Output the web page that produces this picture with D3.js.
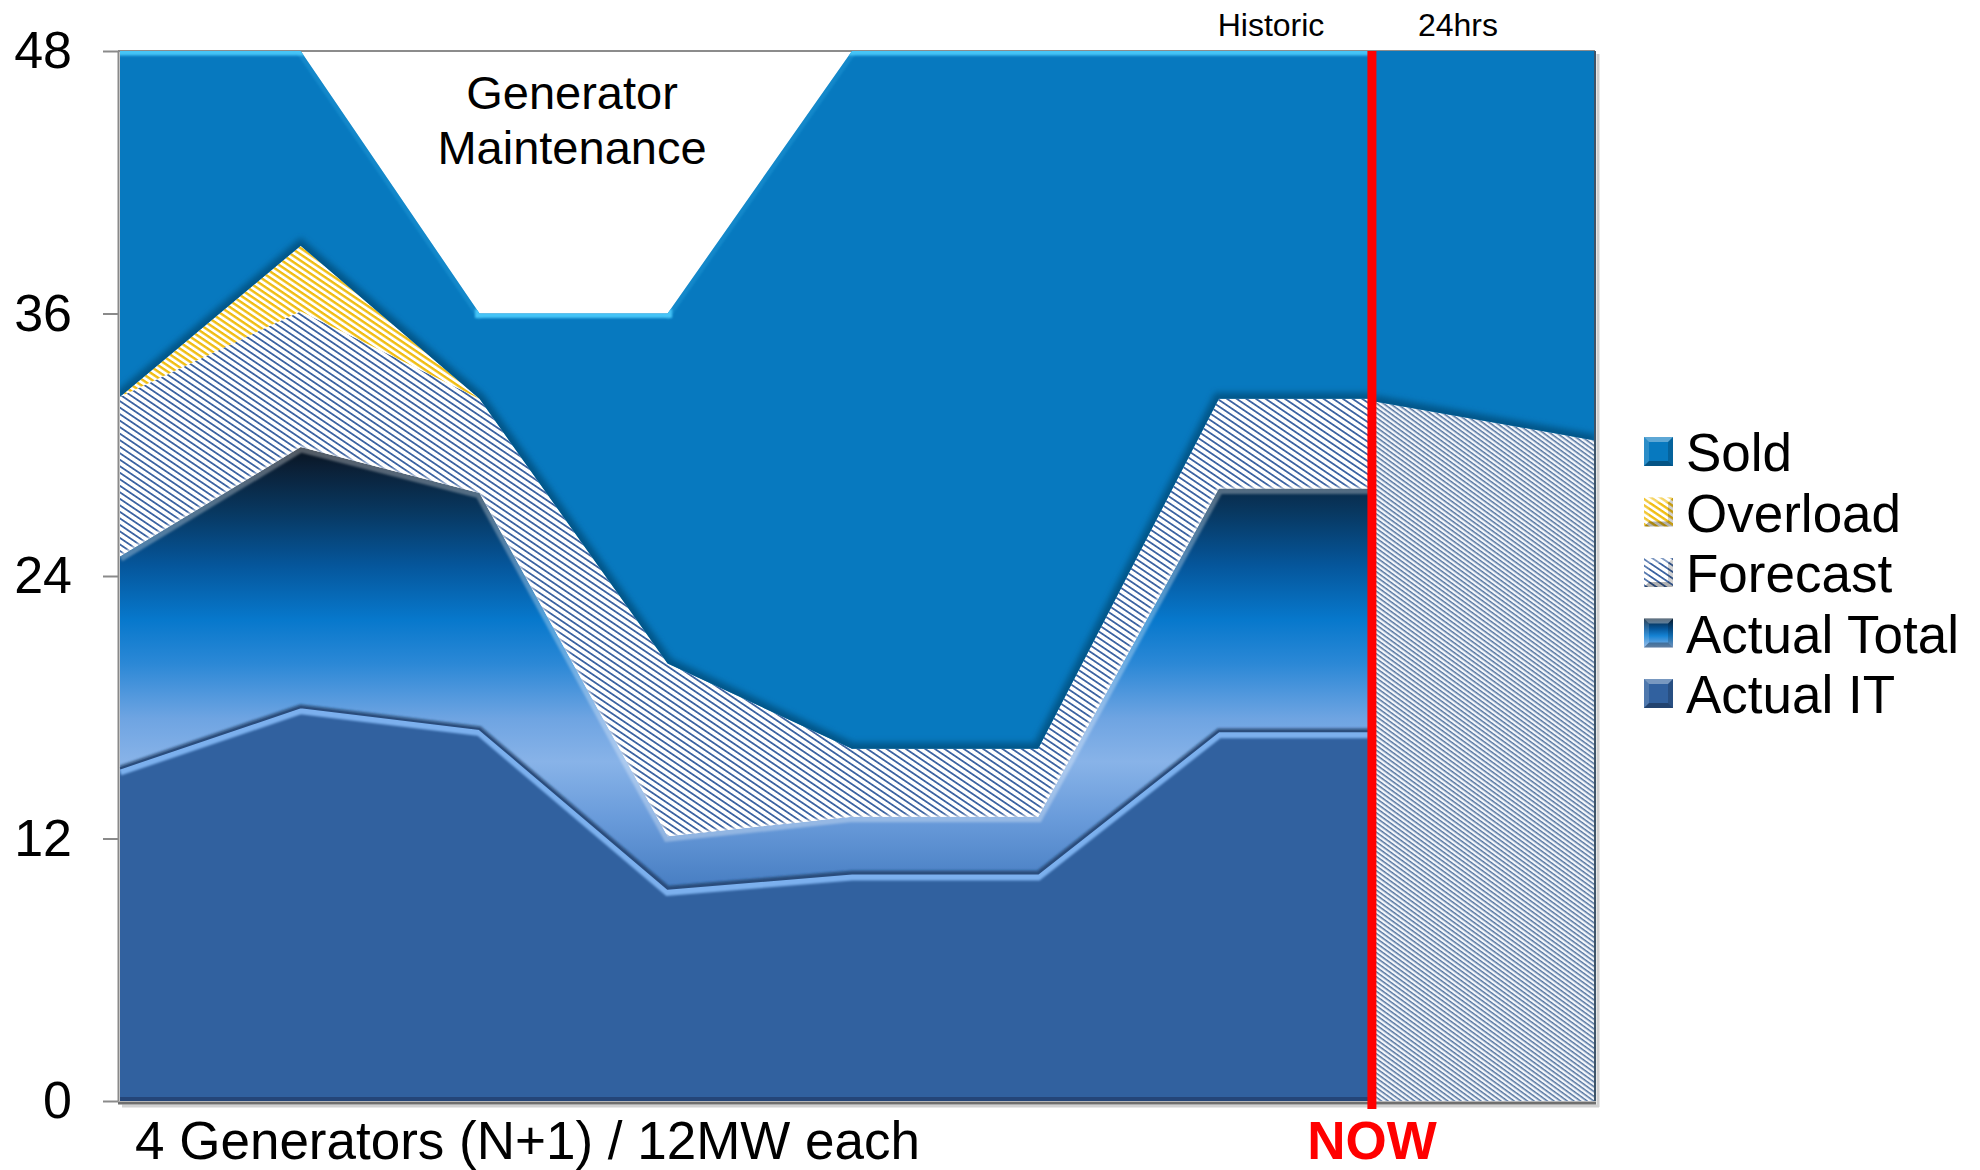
<!DOCTYPE html>
<html>
<head>
<meta charset="utf-8">
<script src="https://cdn.jsdelivr.net/npm/d3@7"></script>
<style>
  html, body { margin: 0; padding: 0; background: #fff; }
  svg { display: block; font-family: "Liberation Sans", Arial, sans-serif; }
</style>
</head>
<body>
<div id="chart"></div>
<script>
// historic points (x in chart units, stacked increments in MW)
const hours       = [0, 0.98, 1.95, 2.97, 3.97, 4.98, 5.96, 6.79];
const actualIT    = [15.2, 18.0, 17.0, 9.7, 10.4, 10.4, 16.9, 16.9];
const actualTotal = [9.7, 11.9, 10.8, 2.4, 2.6, 2.6, 11.1, 11.1];
const forecast    = [7.3, 6.2, 4.3, 7.9, 3.1, 3.1, 4.1, 4.1];
const overload    = [0, 3.0, 0, 0, 0, 0, 0, 0];
const sold        = [15.8, 8.9, 3.9, 16.0, 31.9, 31.9, 15.9, 15.9];

// next 24hrs
const futureHours    = [6.79, 8];
const futureForecast = [32.0, 30.2];
const futureSold     = [16.0, 17.8];

const nowHour = 6.79;
const yTicks = [0, 12, 24, 36, 48];
const keys = ["Actual IT", "Actual Total", "Forecast", "Overload", "Sold"];
const legendLabels = ["Sold", "Overload", "Forecast", "Actual Total", "Actual IT"];

const width = 1980, height = 1170;
const margin = { left: 120, right: 385, top: 51, bottom: 69 };

const svg = d3.select("#chart").append("svg")
    .attr("width", width)
    .attr("height", height);

const x = d3.scaleLinear().domain([0, 8]).range([margin.left, width - margin.right]);
const y = d3.scaleLinear().domain([0, 48]).range([height - margin.bottom, margin.top]);

const defs = svg.append("defs");

// --- patterns / gradients ---
function hatch(id, period, stripe, color, bg, angle) {
    const p = defs.append("pattern")
        .attr("id", id)
        .attr("patternUnits", "userSpaceOnUse")
        .attr("width", 20).attr("height", period)
        .attr("patternTransform", `rotate(${angle})`);
    p.append("rect").attr("width", 20).attr("height", period).attr("fill", bg);
    p.append("rect").attr("width", 20).attr("height", stripe).attr("fill", color);
}
hatch("hatchBlue", 5.4, 1.8, "#3d64a2", "#ffffff", 34);
hatch("hatchFuture", 3.9, 1.5, "#52739f", "#f4f7fb", 36);
hatch("hatchYellow", 5.2, 2.4, "#f0bd12", "#ffffff", 34);

const totalStops = [
    [30, "#08111c"], [29, "#0b1f35"], [27, "#08375f"], [24.5, "#05569b"],
    [22, "#0778cc"], [20, "#2b88d6"], [17.5, "#6ea4e2"], [15.5, "#88b3e8"],
    [13, "#6a9cdb"], [10, "#4a80c4"]
];
const gTotal = defs.append("linearGradient")
    .attr("id", "gradTotal")
    .attr("gradientUnits", "userSpaceOnUse")
    .attr("x1", 0).attr("x2", 0)
    .attr("y1", y(30)).attr("y2", y(10));
gTotal.selectAll("stop").data(totalStops).enter().append("stop")
    .attr("offset", d => (30 - d[0]) / 20)
    .attr("stop-color", d => d[1]);

const gIcon = defs.append("linearGradient")
    .attr("id", "gradTotalIcon")
    .attr("x1", 0).attr("x2", 0).attr("y1", 0).attr("y2", 1);
[[0, "#0a2238"], [0.35, "#06569a"], [0.6, "#1583d4"], [1, "#8ab4e6"]].forEach(s =>
    gIcon.append("stop").attr("offset", s[0]).attr("stop-color", s[1]));

// user-space filter regions so flat lines still render
function blurFilter(id, sd) {
    defs.append("filter").attr("id", id)
        .attr("filterUnits", "userSpaceOnUse")
        .attr("x", 0).attr("y", 0).attr("width", width).attr("height", height)
        .append("feGaussianBlur").attr("stdDeviation", sd);
}
blurFilter("blur1", 1.2);
blurFilter("blur3", 3);

const fills = {
    "Actual IT": "#31619f",
    "Actual Total": "url(#gradTotal)",
    "Forecast": "url(#hatchBlue)",
    "Overload": "url(#hatchYellow)",
    "Sold": "#0779bf"
};

// --- top gridline ---
svg.append("line")
    .attr("x1", margin.left - 2).attr("x2", x(8))
    .attr("y1", y(48)).attr("y2", y(48))
    .attr("stroke", "#8c8c8c").attr("stroke-width", 2);

// --- historic stack ---
const rows = hours.map((h, i) => ({
    h,
    "Actual IT": actualIT[i],
    "Actual Total": actualTotal[i],
    "Forecast": forecast[i],
    "Overload": overload[i],
    "Sold": sold[i]
}));
const series = d3.stack().keys(keys)(rows);

const area = d3.area()
    .x(d => x(d.data.h))
    .y0(d => y(d[0]))
    .y1(d => y(d[1]));
const topLine = d3.line().x(d => x(d.data.h)).y(d => y(d[1]));
const baseLine = d3.line().x(d => x(d.data.h)).y(d => y(d[0]));

const gHist = svg.append("g");

series.forEach((s, i) => {
    defs.append("clipPath").attr("id", "clip" + i).append("path").attr("d", area(s));
    gHist.append("path")
        .attr("d", area(s))
        .attr("fill", fills[s.key]);
});

// bevel effects
function bevel(s, i, lineGen, color, w, dy, filter, opacity) {
    gHist.append("g").attr("clip-path", `url(#clip${i})`)
        .append("path")
        .attr("d", lineGen(s))
        .attr("transform", `translate(0,${dy})`)
        .attr("fill", "none")
        .attr("stroke", color)
        .attr("stroke-width", w)
        .attr("stroke-opacity", opacity)
        .attr("filter", filter);
}
const sIdx = k => keys.indexOf(k);
bevel(series[sIdx("Sold")], sIdx("Sold"), baseLine, "#03507f", 12, 0, "url(#blur3)", 0.85);

// light top edge of Sold: strong on flat parts, faint on slopes
// consecutive segments with the same strength are joined into one run
const soldS = series[sIdx("Sold")];
const soldTop = soldS.map(d => [x(d.data.h), y(d[1])]);
const runs = [];
d3.pairs(soldTop).forEach(([a, b]) => {
    const dx = b[0] - a[0], dy = b[1] - a[1];
    const o = Math.max(0.2, Math.pow(Math.abs(dx) / Math.hypot(dx, dy), 3));
    const last = runs[runs.length - 1];
    if (last && Math.abs(last.o - o) < 0.01) last.pts.push(b);
    else runs.push({ o, pts: [a, b] });
});
const gSoldHi = gHist.append("g").attr("clip-path", `url(#clip${sIdx("Sold")})`);
gSoldHi.selectAll("path")
    .data(runs)
    .enter().append("path")
    .attr("d", r => d3.line()(r.pts))
    .attr("fill", "none")
    .attr("stroke", "#45c4f7")
    .attr("stroke-width", 9)
    .attr("stroke-linecap", "square")
    .attr("stroke-opacity", r => r.o)
    .attr("filter", "url(#blur1)");

bevel(series[sIdx("Forecast")], sIdx("Forecast"), baseLine, "#ffffff", 4, 0, "url(#blur1)", 0.6);
bevel(series[sIdx("Actual Total")], sIdx("Actual Total"), topLine, "#ffffff", 9, 1, "url(#blur1)", 0.3);
bevel(series[sIdx("Actual Total")], sIdx("Actual Total"), baseLine, "#1d3a62", 6, 0, "url(#blur1)", 0.7);
bevel(series[sIdx("Actual IT")], sIdx("Actual IT"), topLine, "#7bb0ee", 8, 3, "url(#blur1)", 1);
gHist.append("path")
    .attr("d", topLine(series[sIdx("Actual IT")]))
    .attr("fill", "none")
    .attr("stroke", "#2a4c7c")
    .attr("stroke-width", 2);

// --- future stack ---
const futureRows = futureHours.map((h, i) => ({ h, "Forecast": futureForecast[i], "Sold": futureSold[i] }));
const futureSeries = d3.stack().keys(["Forecast", "Sold"])(futureRows);
const gFut = svg.append("g");
futureSeries.forEach((s, i) => {
    defs.append("clipPath").attr("id", "fclip" + i).append("path").attr("d", area(s));
    gFut.append("path")
        .attr("d", area(s))
        .attr("fill", s.key === "Sold" ? fills.Sold : "url(#hatchFuture)");
});
gFut.append("g").attr("clip-path", "url(#fclip1)")
    .append("path")
    .attr("d", baseLine(futureSeries[1]))
    .attr("fill", "none")
    .attr("stroke", "#03507f").attr("stroke-width", 12)
    .attr("stroke-opacity", 0.85)
    .attr("filter", "url(#blur3)");

// --- plot edges ---
svg.append("line")
    .attr("x1", x(0)).attr("x2", x(nowHour))
    .attr("y1", y(0) - 2).attr("y2", y(0) - 2)
    .attr("stroke", "#244578").attr("stroke-width", 4);
svg.append("line")
    .attr("x1", x(8) + 3).attr("x2", x(8) + 3)
    .attr("y1", y(48) + 3).attr("y2", y(0) + 6)
    .attr("stroke", "#cfcfcf").attr("stroke-width", 3);
svg.append("line")
    .attr("x1", x(8)).attr("x2", x(8))
    .attr("y1", y(48)).attr("y2", y(0))
    .attr("stroke", "#3e5468").attr("stroke-width", 2);
svg.append("line")
    .attr("x1", margin.left + 2).attr("x2", x(8) + 4)
    .attr("y1", y(0) + 5).attr("y2", y(0) + 5)
    .attr("stroke", "#d2d2d2").attr("stroke-width", 3);
svg.append("line")
    .attr("x1", margin.left - 2).attr("x2", x(8) + 1)
    .attr("y1", y(0) + 2).attr("y2", y(0) + 2)
    .attr("stroke", "#6f6f6f").attr("stroke-width", 3);

// --- y axis ---
const yAxis = d3.axisLeft(y)
    .tickValues(yTicks)
    .tickSize(15)
    .tickSizeOuter(0)
    .tickPadding(31);
const gAxis = svg.append("g")
    .attr("transform", `translate(${margin.left - 2},0)`)
    .call(yAxis);
gAxis.select(".domain").attr("stroke", "#8a8a8a").attr("stroke-width", 2);
gAxis.selectAll(".tick line").attr("stroke", "#8a8a8a").attr("stroke-width", 2);
gAxis.selectAll(".tick text")
    .attr("fill", "#000")
    .style("font-size", "52px")
    .style("font-family", "'Liberation Sans', Arial, sans-serif");

// --- NOW line ---
svg.append("line")
    .attr("x1", x(nowHour)).attr("x2", x(nowHour))
    .attr("y1", y(48)).attr("y2", y(0) + 8)
    .attr("stroke", "#ff0000").attr("stroke-width", 9);

// --- annotations ---
svg.append("text")
    .attr("x", 572).attr("text-anchor", "middle")
    .style("font-size", "47px")
    .selectAll("tspan")
    .data(["Generator", "Maintenance"])
    .enter().append("tspan")
    .attr("x", 572)
    .attr("y", (d, i) => 109 + i * 55)
    .text(d => d);

svg.append("text")
    .attr("x", 1271).attr("y", 36)
    .attr("text-anchor", "middle")
    .style("font-size", "32px")
    .text("Historic");
svg.append("text")
    .attr("x", 1458).attr("y", 36)
    .attr("text-anchor", "middle")
    .style("font-size", "32px")
    .text("24hrs");

svg.append("text")
    .attr("x", 135).attr("y", 1159)
    .style("font-size", "53px")
    .text("4 Generators (N+1) / 12MW each");
svg.append("text")
    .attr("x", x(nowHour)).attr("y", 1159)
    .attr("text-anchor", "middle")
    .style("font-size", "53px")
    .style("font-weight", "bold")
    .attr("fill", "#ff0000")
    .text("NOW");

// --- legend ---
const legendFills = {
    "Sold": "#0779bf",
    "Overload": "url(#hatchYellow)",
    "Forecast": "url(#hatchBlue)",
    "Actual Total": "url(#gradTotalIcon)",
    "Actual IT": "#31619f"
};
const box = 29, inset = 5;
const legend = svg.append("g").attr("transform", "translate(1644,437)");
const item = legend.selectAll("g.item")
    .data(legendLabels)
    .enter().append("g")
    .attr("class", "item")
    .attr("transform", (d, i) => `translate(0,${i * 60.5})`);

item.append("rect")
    .attr("width", box).attr("height", box)
    .attr("fill", d => legendFills[d]);

// bevel facets on the icons
const facets = [
    { pts: [[0, 0], [box, 0], [box - inset, inset], [inset, inset]], c: "#ffffff", o: 0.35 },
    { pts: [[0, 0], [inset, inset], [inset, box - inset], [0, box]], c: "#ffffff", o: 0.15 },
    { pts: [[box, 0], [box, box], [box - inset, box - inset], [box - inset, inset]], c: "#000000", o: 0.18 },
    { pts: [[0, box], [inset, box - inset], [box - inset, box - inset], [box, box]], c: "#000000", o: 0.3 }
];
item.each(function () {
    const g = d3.select(this);
    facets.forEach(f => g.append("polygon")
        .attr("points", f.pts.map(p => p.join(",")).join(" "))
        .attr("fill", f.c)
        .attr("fill-opacity", f.o));
});

item.append("text")
    .attr("x", 42).attr("y", 34)
    .style("font-size", "53px")
    .text(d => d);
</script>
</body>
</html>
